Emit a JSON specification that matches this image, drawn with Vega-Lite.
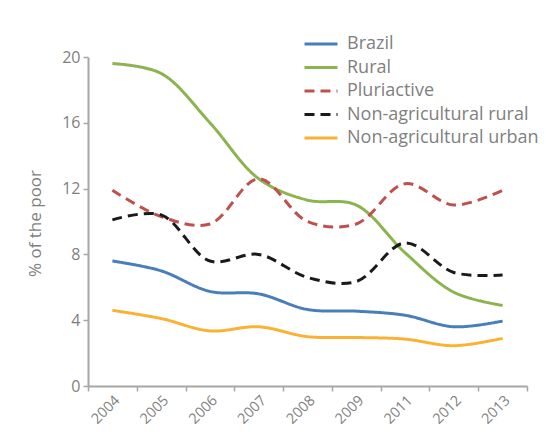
{
  "$schema": "https://vega.github.io/schema/vega-lite/v6.json",
  "autosize": "none",
  "width": 439,
  "height": 329,
  "padding": {"left": 88, "top": 57, "right": 31, "bottom": 57},
  "background": "white",
  "config": {
    "view": {"stroke": null},
    "font": "Open Sans"
  },
  "data": {
    "values": [
      {"year": "2004", "series": "Brazil", "value": 7.6},
      {"year": "2005", "series": "Brazil", "value": 7.0},
      {"year": "2006", "series": "Brazil", "value": 5.75},
      {"year": "2007", "series": "Brazil", "value": 5.6},
      {"year": "2008", "series": "Brazil", "value": 4.65},
      {"year": "2009", "series": "Brazil", "value": 4.55},
      {"year": "2011", "series": "Brazil", "value": 4.3},
      {"year": "2012", "series": "Brazil", "value": 3.6},
      {"year": "2013", "series": "Brazil", "value": 3.95},
      {"year": "2004", "series": "Rural", "value": 19.6},
      {"year": "2005", "series": "Rural", "value": 19.0},
      {"year": "2006", "series": "Rural", "value": 16.0},
      {"year": "2007", "series": "Rural", "value": 12.6},
      {"year": "2008", "series": "Rural", "value": 11.3},
      {"year": "2009", "series": "Rural", "value": 11.0},
      {"year": "2011", "series": "Rural", "value": 8.1},
      {"year": "2012", "series": "Rural", "value": 5.7},
      {"year": "2013", "series": "Rural", "value": 4.9},
      {"year": "2004", "series": "Pluriactive", "value": 11.9},
      {"year": "2005", "series": "Pluriactive", "value": 10.3},
      {"year": "2006", "series": "Pluriactive", "value": 9.85},
      {"year": "2007", "series": "Pluriactive", "value": 12.6},
      {"year": "2008", "series": "Pluriactive", "value": 10.0},
      {"year": "2009", "series": "Pluriactive", "value": 9.85},
      {"year": "2011", "series": "Pluriactive", "value": 12.3},
      {"year": "2012", "series": "Pluriactive", "value": 11.0},
      {"year": "2013", "series": "Pluriactive", "value": 11.9},
      {"year": "2004", "series": "Non-agricultural rural", "value": 10.1},
      {"year": "2005", "series": "Non-agricultural rural", "value": 10.4},
      {"year": "2006", "series": "Non-agricultural rural", "value": 7.6},
      {"year": "2007", "series": "Non-agricultural rural", "value": 8.0},
      {"year": "2008", "series": "Non-agricultural rural", "value": 6.6},
      {"year": "2009", "series": "Non-agricultural rural", "value": 6.35},
      {"year": "2011", "series": "Non-agricultural rural", "value": 8.7},
      {"year": "2012", "series": "Non-agricultural rural", "value": 6.9},
      {"year": "2013", "series": "Non-agricultural rural", "value": 6.75},
      {"year": "2004", "series": "Non-agricultural urban", "value": 4.6},
      {"year": "2005", "series": "Non-agricultural urban", "value": 4.1},
      {"year": "2006", "series": "Non-agricultural urban", "value": 3.35},
      {"year": "2007", "series": "Non-agricultural urban", "value": 3.6},
      {"year": "2008", "series": "Non-agricultural urban", "value": 3.0},
      {"year": "2009", "series": "Non-agricultural urban", "value": 2.95},
      {"year": "2011", "series": "Non-agricultural urban", "value": 2.85},
      {"year": "2012", "series": "Non-agricultural urban", "value": 2.45},
      {"year": "2013", "series": "Non-agricultural urban", "value": 2.9}
    ]
  },
  "mark": {"type": "line", "strokeWidth": 3, "interpolate": "catmull-rom"},
  "encoding": {
    "x": {
      "field": "year",
      "type": "ordinal",
      "scale": {"type": "band", "paddingInner": 0, "paddingOuter": 0},
      "axis": {
        "title": null,
        "tickBand": "extent",
        "labelAngle": -45,
        "labelAlign": "right",
        "labelBaseline": "top",
        "labelFontSize": 14.5,
        "labelColor": "#7f7f7f",
        "labelPadding": 2,
        "domainColor": "#a6a6a6",
        "domainWidth": 2,
        "tickColor": "#a6a6a6",
        "tickSize": 5,
        "tickWidth": 1.5,
        "grid": false
      }
    },
    "y": {
      "field": "value",
      "type": "quantitative",
      "scale": {"domain": [0, 20], "nice": false},
      "axis": {
        "title": "% of the poor",
        "titleFontSize": 17,
        "titleFontWeight": "normal",
        "titleColor": "#7f7f7f",
        "titleAngle": -90,
        "titleAlign": "center",
        "titleBaseline": "middle",
        "titleX": -53,
        "titleY": 166,
        "values": [0, 4, 8, 12, 16, 20],
        "labelFontSize": 16,
        "labelColor": "#7f7f7f",
        "labelPadding": 3,
        "domainColor": "#a6a6a6",
        "domainWidth": 2,
        "tickColor": "#a6a6a6",
        "tickSize": 5,
        "tickWidth": 1.5,
        "grid": false
      }
    },
    "color": {
      "field": "series",
      "type": "nominal",
      "scale": {
        "domain": ["Brazil", "Rural", "Pluriactive", "Non-agricultural rural", "Non-agricultural urban"],
        "range": ["#4a7ebb", "#8cb44e", "#c0504d", "#1a1a1a", "#f9b233"]
      },
      "legend": {
        "title": null,
        "orient": "none",
        "legendX": 224,
        "legendY": -22,
        "symbolType": "M-3.3,0H3.3",
        "symbolSize": 100,
        "symbolStrokeWidth": 3,
        "rowPadding": 5.5,
        "labelFontSize": 18,
        "labelLimit": 400,
        "labelColor": "#7f7f7f",
        "labelOffset": 17
      }
    },
    "strokeDash": {
      "field": "series",
      "type": "nominal",
      "scale": {
        "domain": ["Brazil", "Rural", "Pluriactive", "Non-agricultural rural", "Non-agricultural urban"],
        "range": [[1, 0], [1, 0], [10, 6], [10, 6], [1, 0]]
      },
      "legend": {
        "title": null,
        "orient": "none",
        "legendX": 224,
        "legendY": -22,
        "symbolType": "M-3.3,0H3.3",
        "symbolSize": 100,
        "symbolStrokeWidth": 3,
        "rowPadding": 5.5,
        "labelFontSize": 18,
        "labelLimit": 400,
        "labelColor": "#7f7f7f",
        "labelOffset": 17
      }
    }
  }
}
